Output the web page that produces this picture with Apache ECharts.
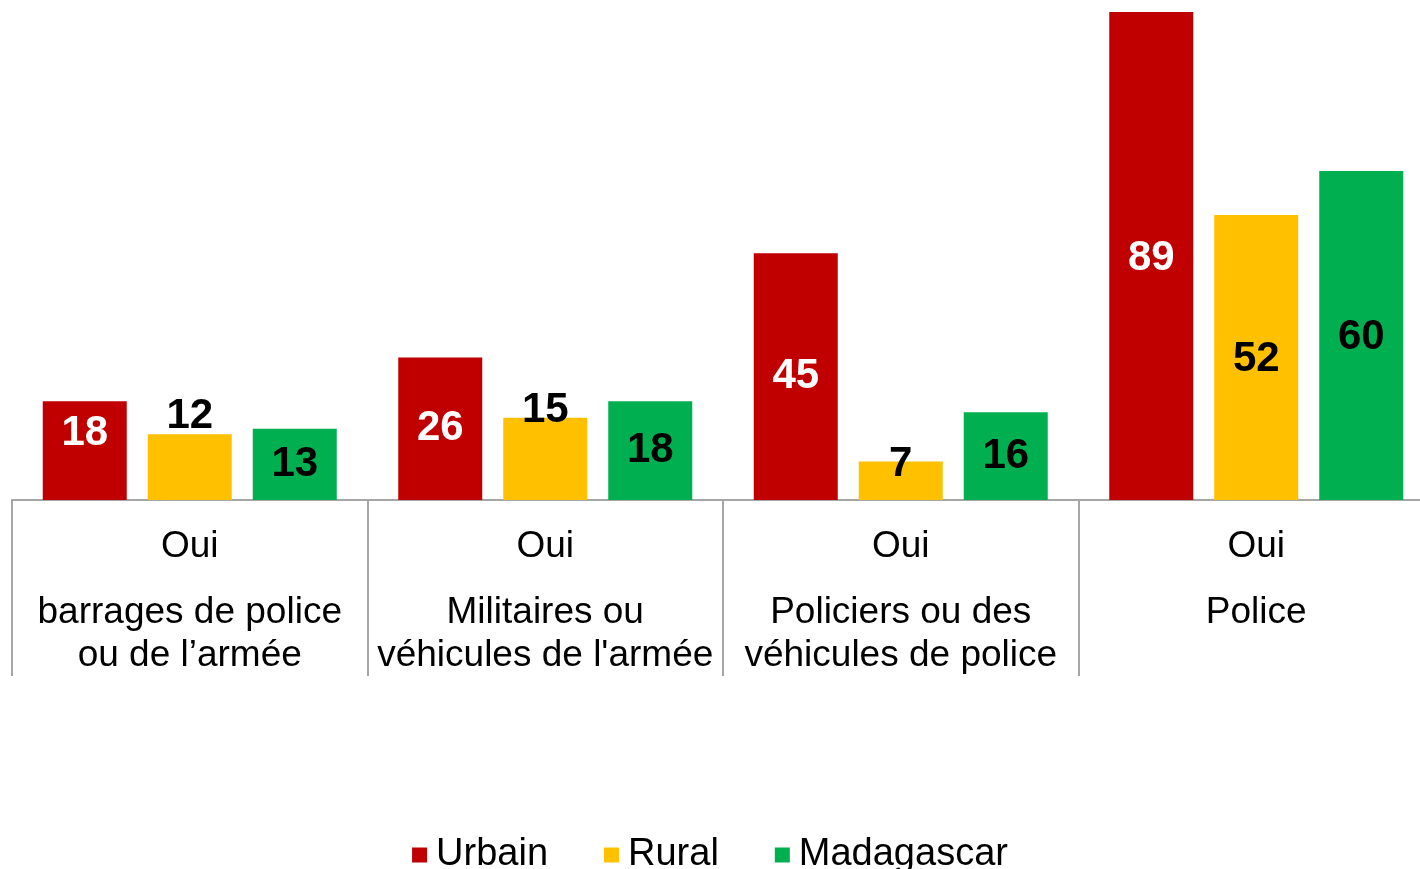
<!DOCTYPE html>
<html>
<head>
<meta charset="utf-8">
<script src="https://cdn.jsdelivr.net/npm/echarts@6/dist/echarts.min.js"></script>
<style>
  html, body { margin: 0; padding: 0; background: #fff; }
  #chart { width: 1420px; height: 869px; }
</style>
</head>
<body>
<div id="chart"></div>
<script>
// données (%)
const catHead = ['Oui', 'Oui', 'Oui', 'Oui']
const catText = [
  'barrages de police\nou de l’armée',
  'Militaires ou\nvéhicules de l\'armée',
  'Policiers ou des\nvéhicules de police',
  'Police'
]
const seriesNames = ['Urbain', 'Rural', 'Madagascar']
const urbain = [18, 26, 45, 89]
const rural = [12, 15, 7, 52]
const madagascar = [13, 18, 16, 60]

const colors = ['#C00000', '#FFC000', '#00B050']
const labelColors = ['#fff', '#000', '#000']
// décalage vertical des étiquettes (placées à la main dans l'original)
const labelShift = [
  [-17, 0, 0, 2],
  [-51, -48, -16, 2],
  [0, 0, 0, 2]
]

const font = '"Liberation Sans", Arial, sans-serif'
const categories = catHead.map((h, i) => h + '\n' + catText[i])

const makeSeries = (name, values, idx) => ({
  name: name,
  type: 'bar',
  barWidth: 84,
  barGap: '25%',
  itemStyle: { color: colors[idx] },
  label: {
    show: true,
    position: 'inside',
    color: labelColors[idx],
    fontFamily: font,
    fontWeight: 'bold',
    fontSize: 42
  },
  data: values.map((v, i) => ({
    value: v,
    label: { offset: [0, labelShift[idx][i]] }
  }))
})

const chart = echarts.init(document.getElementById('chart'))
chart.setOption({
  animation: false,
  grid: { left: 12, width: 1422, top: 12, height: 488, outerBoundsMode: 'none', containLabel: false },
  xAxis: {
    type: 'category',
    data: categories,
    axisLine: { lineStyle: { color: '#a6a6a6', width: 2 } },
    axisTick: { show: true, length: 176, lineStyle: { color: '#a6a6a6', width: 2 } },
    axisLabel: {
      interval: 0,
      margin: 25,
      fontFamily: font,
      formatter: (val) => {
        const parts = val.split('\n')
        const head = parts.shift()
        return '{a|' + head + '}\n{s| }\n' + parts.map(p => '{b|' + p + '}').join('\n')
      },
      rich: {
        a: { fontFamily: font, fontSize: 37, lineHeight: 44, color: '#000' },
        s: { fontSize: 2, lineHeight: 22 },
        b: { fontFamily: font, fontSize: 37, lineHeight: 43, color: '#000' }
      }
    }
  },
  yAxis: {
    type: 'value',
    min: 0,
    max: 89,
    show: false,
    splitLine: { show: false }
  },
  legend: {
    data: seriesNames,
    left: 'center',
    top: 830,
    itemWidth: 15,
    itemHeight: 15,
    itemGap: 56,
    icon: 'rect',
    textStyle: { fontFamily: font, fontSize: 38, color: '#000', lineHeight: 40, padding: [0, 0, 0, 4] }
  },
  series: [
    makeSeries(seriesNames[0], urbain, 0),
    makeSeries(seriesNames[1], rural, 1),
    makeSeries(seriesNames[2], madagascar, 2)
  ]
})
</script>
</body>
</html>
